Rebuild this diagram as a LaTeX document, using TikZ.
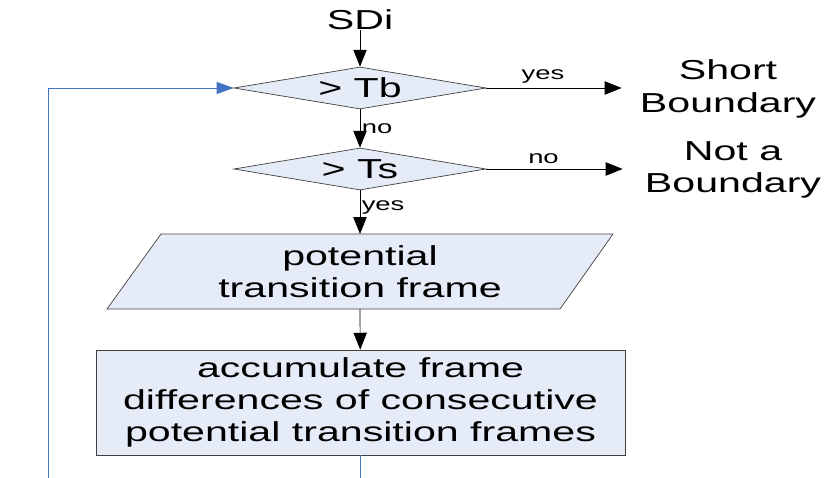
\documentclass[tikz,border=0pt]{standalone}
\usepackage{fontspec}
\setmainfont[FakeStretch=1.5]{Liberation Sans}
\usepackage{tikz}
\usetikzlibrary{shapes.geometric}
\usetikzlibrary{arrows.meta}
\definecolor{flowfill}{RGB}{230,236,247}
\definecolor{flowline}{RGB}{64,64,64}
\definecolor{loopblue}{RGB}{68,114,196}
\tikzstyle{flow}=[x=0.025cm, y=-0.025cm, line width=0.5pt, font=\fontsize{19.5}{23}\selectfont]
\tikzstyle{test}=[diamond, aspect=6, inner sep=0pt, draw=flowline, fill=flowfill, minimum width=6.3cm, minimum height=1.05cm]
\tikzstyle{iobox}=[draw=flowline, fill=flowfill]
\tikzstyle{proc}=[rectangle, draw=flowline, fill=flowfill, minimum width=13.225cm, minimum height=2.625cm, align=center]
\tikzstyle{result}=[align=center, inner sep=0pt]
\tikzstyle{edge}=[-{Triangle[length=12pt,width=9.5pt]}, black]
\tikzstyle{loopedge}=[-{Triangle[length=12pt,width=8.5pt]}, loopblue]
\tikzstyle{edgeLabel}=[midway, above, font=\fontsize{13}{15}\selectfont]
\tikzstyle{vredgeLabel}=[midway, right, inner sep=1pt, font=\fontsize{13}{15}\selectfont]

\begin{document}
\begin{tikzpicture}[flow]
	\clip (0,0) rectangle (826,478);
	\draw (360,20) node[result] (sdi) {SDi};
	\draw (360,88) node[test] (tb) {> Tb};
	\draw (360,169) node[test] (ts) {> Ts};
	\draw (728,89) node[result] (short) {Short\\Boundary};
	\draw (733,170) node[result] (notb) {Not a\\Boundary};
	% input/output parallelogram
	\draw[iobox] (161,234) -- (613,234) -- (560,309) -- (107,309) -- cycle;
	\coordinate (potTop) at (360,234);
	\coordinate (potBot) at (360,309);
	\draw (360,271.5) node[result] (pot) {potential\\transition frame};
	\draw (360.5,402.5) node[proc] (acc) {accumulate frame\\differences of consecutive\\potential transition frames};
	\draw[edge] (sdi) -- (tb);
	\draw[edge, shorten >=0.45cm] (tb.east) -- (short.west |- tb.east) node [edgeLabel, xshift=-0.5cm] {yes};
	\draw[edge] (tb) -- (ts) node [vredgeLabel] {no};
	\draw[edge, shorten >=0.55cm] (ts.east) -- (notb.west |- ts.east) node [edgeLabel, xshift=-0.55cm] {no};
	\draw[edge] (ts) -- (potTop) node [vredgeLabel, yshift=0.12cm] {yes};
	\draw[edge] (potBot) -- (acc);
	\draw[loopedge] (acc.south) |- (48,520) |- (tb.west);
\end{tikzpicture}
\end{document}
